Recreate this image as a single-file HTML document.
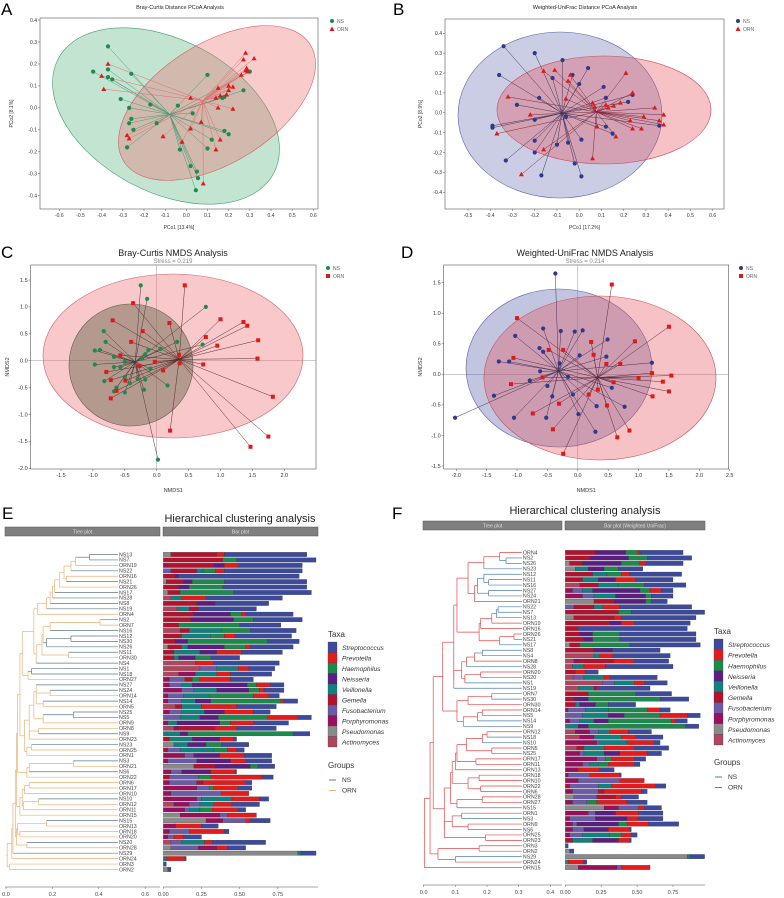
<!DOCTYPE html>
<html><head><meta charset="utf-8"><style>
body{margin:0;background:#fff}
svg{display:block;font-family:"Liberation Sans",sans-serif}
</style></head><body>
<svg id="fig" width="784" height="898" viewBox="0 0 784 898">
<g id="panels"></g>
</svg>
<script>
// ---------- Scatter data ----------
const aNS=[[-0.37,0.28],[-0.44,0.165],[-0.37,0.175],[-0.37,0.14],[-0.35,0.13],[-0.26,0.155],[-0.31,0.04],[-0.27,0.0],[-0.17,0.015],[-0.26,-0.05],[-0.27,-0.07],[-0.25,-0.1],[-0.14,-0.07],[-0.28,-0.18],[-0.04,0.01],[0.03,-0.025],[0.1,0.15],[-0.03,-0.19],[0.02,-0.265],[0.05,-0.29],[0.055,-0.32],[0.045,-0.375],[0.12,-0.145],[0.1,-0.185],[0.18,-0.105],[0.2,-0.12],[0.27,0.08],[0.17,0.045],[0.18,0.05],[0.3,0.165]];
const aORN=[[-0.37,0.2],[-0.4,0.145],[-0.39,0.085],[-0.28,-0.125],[-0.27,-0.14],[-0.11,-0.13],[-0.02,-0.155],[0.02,0.045],[0.02,-0.095],[0.07,-0.065],[0.08,-0.345],[0.14,0.045],[0.15,0.09],[0.15,0.0],[0.16,-0.145],[0.14,-0.19],[0.16,0.055],[0.19,0.06],[0.2,0.1],[0.2,0.08],[0.22,0.095],[0.22,-0.005],[0.26,0.15],[0.27,0.22],[0.28,0.25],[0.32,0.225],[0.285,0.18],[0.28,0.17],[0.29,0.165]];
const bNS=[[-0.34,0.335],[-0.2,0.3],[-0.36,0.19],[-0.075,0.265],[0.04,0.225],[-0.12,0.175],[-0.03,0.19],[0.0,0.145],[0.11,0.13],[0.12,0.075],[0.22,0.055],[0.24,0.09],[-0.18,0.075],[-0.28,0.04],[-0.2,-0.035],[-0.39,-0.065],[-0.39,-0.075],[-0.06,-0.02],[0.12,-0.07],[0.15,-0.105],[0.36,-0.065],[-0.2,-0.14],[-0.1,-0.16],[-0.05,-0.15],[0.01,-0.135],[-0.2,-0.2],[-0.33,-0.24],[-0.17,-0.315],[-0.02,-0.255],[0.01,-0.32]];
const bORN=[[-0.16,0.21],[-0.11,0.215],[-0.04,0.19],[-0.05,0.16],[0.21,0.2],[-0.32,0.08],[-0.06,0.07],[0.06,0.05],[0.07,0.03],[0.12,0.04],[0.13,0.025],[0.155,0.035],[0.185,0.05],[0.24,0.1],[0.34,0.025],[-0.22,-0.01],[-0.37,-0.105],[0.08,-0.07],[0.23,-0.04],[0.24,-0.08],[0.29,-0.02],[0.38,-0.01],[0.36,-0.04],[0.38,-0.06],[0.28,-0.08],[0.165,-0.12],[-0.16,-0.185],[0.06,-0.23],[-0.26,-0.31]];
const cNS=[[-0.25,1.4],[-0.15,1.15],[0.77,1.0],[-0.83,0.55],[-0.8,0.35],[-0.97,0.19],[-0.89,0.2],[-0.67,0.07],[-0.13,0.2],[0.06,0.22],[0.32,0.35],[0.72,0.3],[-0.18,0.12],[-0.23,0.04],[-0.5,-0.02],[-0.97,-0.07],[-0.67,-0.12],[-0.57,-0.12],[-0.1,-0.15],[-0.5,-0.3],[-0.42,-0.42],[-0.3,-0.34],[-0.18,-0.35],[0.17,-0.46],[-0.82,-0.38],[-0.63,-0.5],[-0.67,-0.57],[-0.5,-0.59],[-0.2,-0.54],[0.02,-1.84]];
const cORN=[[0.44,1.4],[-0.37,1.07],[-0.69,0.75],[0.2,0.7],[-0.22,0.55],[-0.4,0.35],[1.0,0.77],[1.36,0.72],[1.42,0.65],[0.77,0.44],[1.59,0.38],[0.95,0.28],[-0.57,0.1],[0.35,0.11],[1.58,0.04],[-0.03,-0.02],[0.36,-0.05],[0.73,-0.07],[-0.27,-0.1],[0.1,-0.18],[-0.79,-0.21],[-0.72,-0.36],[-0.49,-0.37],[-0.63,-0.56],[-0.72,-0.7],[1.82,-0.67],[0.21,-1.3],[1.75,-1.41],[1.47,-1.6]];
const dNS=[[-0.37,1.65],[-0.57,0.75],[-0.28,0.71],[-0.05,0.7],[0.08,0.72],[-1.03,0.63],[0.49,0.57],[-0.63,0.43],[-0.57,0.37],[-1.3,0.21],[-1.13,0.21],[0.03,0.31],[0.47,0.29],[-0.3,0.18],[1.22,0.19],[-0.62,0.05],[-0.16,-0.04],[-0.79,-0.1],[-0.5,-0.19],[-1.38,-0.35],[-0.42,-0.36],[-0.08,-0.33],[0.56,-0.22],[0.31,-0.52],[0.77,-0.53],[0.01,-0.65],[-1.05,-0.71],[-0.52,-0.71],[0.29,-0.94],[-2.02,-0.71]];
const dORN=[[0.56,1.47],[-1.0,0.92],[1.5,0.78],[0.94,0.54],[0.22,0.53],[-0.48,0.4],[-0.24,0.4],[0.26,0.32],[-1.06,0.27],[0.47,0.17],[0.7,0.17],[1.22,0.02],[1.54,-0.02],[-0.58,-0.05],[1.0,-0.06],[0.59,-0.13],[1.4,-0.12],[-1.1,-0.16],[0.33,-0.25],[0.18,-0.33],[1.5,-0.28],[1.23,-0.36],[-0.31,-0.48],[0.48,-0.51],[-0.74,-0.64],[-0.41,-0.9],[0.85,-0.92],[0.65,-1.03],[-0.24,-1.3]];
const aXTicks=[-0.6,-0.5,-0.4,-0.3,-0.2,-0.1,0,0.1,0.2,0.3,0.4,0.5,0.6];
const aYTicks=[-0.4,-0.3,-0.2,-0.1,0,0.1,0.2,0.3,0.4];
const bXTicks=[-0.5,-0.4,-0.3,-0.2,-0.1,0,0.1,0.2,0.3,0.4,0.5,0.6];
const cXTicks=[-1.5,-1.0,-0.5,0,0.5,1.0,1.5,2.0];
const cYTicks=[-2.0,-1.5,-1.0,-0.5,0,0.5,1.0,1.5];
const dXTicks=[-2.0,-1.5,-1.0,-0.5,0,0.5,1.0,1.5,2.0,2.5];
const dYTicks=[-1.5,-1.0,-0.5,0,0.5,1.0,1.5];

// ---------- Dendrogram / bar data ----------
const eLabels=["NS13","NS7","ORN19","NS22","ORN16","NS21","ORN26","NS17","NS28","NS8","NS19","ORN4","NS2","ORN7","NS16","NS12","NS30","NS26","NS11","ORN30","NS4","NS1","NS18","ORN27","NS27","NS24","ORN14","NS14","ORN5","NS25","NS5","ORN9","ORN8","NS9","ORN23","NS23","ORN25","ORN1","NS3","ORN21","NS6","ORN22","ORN6","ORN17","ORN10","NS10","ORN12","ORN11","ORN15","NS15","ORN13","ORN18","ORN20","NS20","ORN28","NS29","ORN24","ORN3","ORN2"];
const eMerge=[0.36,0.30,0.28,0.25,0.26,0.23,0.21,0.20,0.19,0.175,0.135,0.12,0.405,0.19,0.16,0.28,0.175,0.155,0.27,0.13,0.07,0.11,0.095,0.06,0.13,0.19,0.13,0.16,0.12,0.29,0.16,0.10,0.14,0.10,0.08,0.11,0.09,0.05,0.29,0.10,0.09,0.045,0.10,0.08,0.07,0.14,0.075,0.06,0.04,0.175,0.05,0.06,0.045,0.09,0.03,0.025,0.005,0.015,0.003];
const eBars=["U5 G35 P40 S94","G39 H48 S100","R3 G33 N40 P49 S91","F5 G22 V26 H34 P40 S91","G8 N10 S89","U2 G13 N19 H40 S94","G10 N17 H39 S94","U3 G11 H46 S97","A5 V12 P28 S78","G22 N34 S69","A9 V17 G23 S61","G20 N44 H51 P54 S85","G18 N46 H59 S91","G10 H50 S77","A11 G17 V38 H57 S87","G12 V31 H40 P47 S84","G8 N16 H68 S89","U3 G12 V16 N40 H54 P57 S85","G7 V24 N35 P51 S78","G7 V10 N21 H31 S50","A21 P33 S76","A24 F35 V49 P56 S73","A10 R21 V35 P44 S71","R4 F14 G19 H24 P44 S59","R4 F12 V19 N55 H61 P70 S79","R12 F20 V35 N56 H63 P66 S79","R3 F13 V30 H59 P69 S76","R3 F12 V21 N31 H77 P79 S88","A8 G12 V25 P48 S74","R4 F12 V27 N40 P59 S70","F11 V24 N36 H68 P88 S97","R3 V9 N37 H44 P59 S82","A7 R10 G34 P48 S74","V11 N16 H85 S96","G4 V19 N37 P46 S48","U7 V16 N28 H38 S56","G3 F11 V33 H42 P48 S53","R14 F20 N37 P53 S71","R3 F22 N44 P54 S71","U20 G34 N57 H62 S73","R5 F12 N31 P47 S48","G4 F23 H31 P65 S72","R4 F22 G26 P54 S58","R22 F30 H33 P49 S58","R5 F38 P56","R22 F25 V45 P63 S69","A7 R17 F24 V33 P45 S63","R14 F17 V24 H32 P49 S54","U11 R37 F42 P61","U28 R39 F54 P57 S70","R8 P25 S36","R4 F17 P40 S43","R3 F7 P13 S25","A5 F12 V27 P32 S67","U5 F23 R35 P42 S54","U88 V90 S100","V2 P14 S15","S2","U3 S5"];
const fLabels=["ORN4","NS2","NS26","NS23","NS12","NS11","NS16","NS27","NS24","ORN21","NS22","NS7","NS13","ORN19","ORN16","ORN26","NS21","NS17","NS8","NS4","ORN8","NS28","ORN20","NS20","NS1","NS19","ORN7","NS30","ORN30","ORN14","NS5","NS14","NS9","ORN12","NS18","NS10","ORN5","NS25","ORN17","ORN11","ORN13","ORN18","ORN10","ORN22","ORN6","ORN28","ORN27","NS15","ORN1","NS3","ORN9","NS6","ORN25","ORN23","ORN3","ORN2","NS29","ORN24","ORN15"];
const fMerge=[0.24,0.26,0.19,0.14,0.19,0.205,0.17,0.205,0.16,0.105,0.235,0.23,0.215,0.18,0.175,0.285,0.24,0.095,0.185,0.16,0.135,0.12,0.18,0.13,0.095,0.06,0.215,0.14,0.105,0.185,0.17,0.125,0.03,0.2,0.185,0.135,0.215,0.105,0.165,0.10,0.09,0.175,0.14,0.18,0.085,0.185,0.105,0.065,0.12,0.09,0.14,0.065,0.195,0.02,0.175,0.045,0.10,0.002];
const fBars=["G21 N42 H50 P52 S82","G17 N44 H57 S88","U3 G12 N39 H52 P56 S82","U7 V16 N27 H37 S54","G19 V29 H39 P45 S81","G12 V23 N35 P49 S75","A10 G23 V37 H55 S84","R5 F12 V19 N52 H59 P67 S75","R12 F20 V35 N56 H60 S75","U20 G34 N56 H60 S71","F6 G20 V26 P38 S88","G37 H46 S97","U6 G34 P39 S91","G31 N39 P48 S87","G9 S85","G10 N19 H38 S91","G13 N19 H38 S91","U3 G10 H45 S94","G20 N33 S66","A20 V24 P33 S73","A6 R10 G34 P48 S72","A5 V13 P28 S75","G7 P14 S23","A6 F13 V27 P31 S64","A26 F34 V48 P55 S71","A9 V20 G22 S59","G16 H49 S74","G6 N16 H66 S86","G7 V10 N21 H30 S49","R2 F14 V30 H57 P66 S73","F12 V30 N41 H66 P85 S94","R3 F10 V20 N30 H74 P77 S85","V9 N16 H84 S93","A7 R17 F23 V31 P44 S60","A10 R20 V39 P49 S68","R22 F24 V43 P62 S66","A8 G13 V27 P48 S72","R10 F13 V27 N38 P57 S67","R22 F28 H32 P48 S56","R12 F17 V23 H30 P48 S52","R9 P24 S34","R2 F17 P38 S39","R9 F38 P55","G3 F23 V32 P63 S70","R5 F23 G27 P53 S57","U6 F22 G35 P39 S51","R5 F15 H22 P43 S57","U27 R37 F51 P55 S67","R16 F21 N35 P51 S68","R3 F21 N43 P51 S68","R5 F8 N37 H43 P58 S79","R5 F13 N30 P45 S46","R3 F12 V31 H39 P46 S50","G5 V19 N37 P45 S46","S2","U3 S6","U85 V87 S97","V2 P13 S15","U9 R36 F39 P59"];
const taxaNames=["Streptococcus","Prevotella","Haemophilus","Neisseria","Veillonella","Gemella","Fusobacterium","Porphyromonas","Pseudomonas","Actinomyces"];
const taxaCodes=["S","P","H","N","V","G","F","R","U","A"];
const taxaColors=["#3b4a9c","#e41a1c","#1b8a4c","#5a1e82","#138080","#b3112e","#6a5aa8","#980f5e","#8a8a8a","#b04560"];
const treeTicksE=[0,0.2,0.4,0.6];
const treeTicksF=[0,0.1,0.2,0.3,0.4];
const barTicks=[0,0.25,0.5,0.75];

const NS="http://www.w3.org/2000/svg";
const root=document.getElementById('panels');
function el(tag,attrs,parent,text){const e=document.createElementNS(NS,tag);for(const k in attrs)e.setAttribute(k,attrs[k]);if(text!==undefined)e.textContent=text;(parent||root).appendChild(e);return e;}
function fmt(v,d){return v.toFixed(d);}

function scatter(o){
  const g=el('g',{});
  
  
  const sx=v=>o.x0+(v-o.xmin)*o.kx, sy=v=>o.y0-(v-o.ymin)*o.ky;
  el('rect',{x:o.box[0],y:o.box[1],width:o.box[2]-o.box[0],height:o.box[3]-o.box[1],fill:'#fff',stroke:'#555','stroke-width':0.6},g);
  if(o.zero){el('line',{x1:o.box[0],x2:o.box[2],y1:sy(0),y2:sy(0),stroke:'#999','stroke-width':0.5},g);el('line',{x1:sx(0),x2:sx(0),y1:o.box[1],y2:o.box[3],stroke:'#999','stroke-width':0.5},g);}
  o.ells.forEach(e=>{const el2=el('ellipse',{cx:e[0],cy:e[1],rx:e[2],ry:e[3],transform:`rotate(${e[4]} ${e[0]} ${e[1]})`,fill:e[5],stroke:e[6],'stroke-width':0.6},g);});
  o.groups.forEach(gr=>{
    const cx=gr.pts.reduce((s,p)=>s+p[0],0)/gr.pts.length, cy=gr.pts.reduce((s,p)=>s+p[1],0)/gr.pts.length;
    gr.pts.forEach(p=>el('line',{x1:sx(cx),y1:sy(cy),x2:sx(p[0]),y2:sy(p[1]),stroke:gr.line,'stroke-width':0.5},g));
  });
  o.groups.forEach(gr=>{
    gr.pts.forEach(p=>{
      const X=sx(p[0]),Y=sy(p[1]);let m;
      if(gr.shape==='c')m=el('circle',{cx:X,cy:Y,r:2.1,fill:gr.col},g);
      else if(gr.shape==='t')m=el('polygon',{points:`${X},${Y-2.6} ${X-2.5},${Y+1.8} ${X+2.5},${Y+1.8}`,fill:gr.col},g);
      else m=el('rect',{x:X-2,y:Y-2,width:4,height:4,fill:gr.col},g);
      
      
    });
  });
  o.xt.forEach(t=>{el('line',{x1:sx(t),x2:sx(t),y1:o.box[3],y2:o.box[3]+2,stroke:'#555','stroke-width':0.5},g);el('text',{x:sx(t),y:o.box[3]+8,'font-size':o.fs,'text-anchor':'middle',fill:'#333'},g,fmt(t,1));});
  o.yt.forEach(t=>{el('line',{x1:o.box[0]-2,x2:o.box[0],y1:sy(t),y2:sy(t),stroke:'#555','stroke-width':0.5},g);el('text',{x:o.box[0]-3,y:sy(t)+1.8,'font-size':o.fs,'text-anchor':'end',fill:'#333'},g,fmt(t,1));});
  const xl=el('text',{x:(o.box[0]+o.box[2])/2,y:o.xlY,'font-size':o.fs,'text-anchor':'middle',fill:'#333'},g,o.xlab);
  const yl=el('text',{x:0,y:0,'font-size':o.fs,'text-anchor':'middle',fill:'#333',transform:`translate(${o.ylX},${(o.box[1]+o.box[3])/2}) rotate(-90)`},g,o.ylab);
  const tt=el('text',{x:o.tx,y:o.ty,'font-size':o.tfs,'text-anchor':'middle',fill:'#222'},g,o.title);
  if(o.stress){el('text',{x:o.tx,y:o.ty+7,'font-size':6,'text-anchor':'middle',fill:'#888'},g,o.stress);}
  const lt=el('text',{x:o.letter[0],y:o.letter[1],'font-size':17,fill:'#000'},g,o.L);
  o.groups.forEach((gr,i)=>{
    const lx=o.leg[0],ly=o.leg[1]+i*8;
    const lg=el('g',{},g);
    if(gr.shape==='c')el('circle',{cx:lx,cy:ly,r:2,fill:gr.col},lg);
    else if(gr.shape==='t')el('polygon',{points:`${lx},${ly-2.5} ${lx-2.5},${ly+2} ${lx+2.5},${ly+2}`,fill:gr.col},lg);
    else el('rect',{x:lx-2,y:ly-2,width:4,height:4,fill:gr.col},lg);
    el('text',{x:lx+5,y:ly+2,'font-size':5,fill:'#666'},lg,gr.label);
  });
}

scatter({name:'panel-a-pcoa-bray',L:'A',letter:[1,15],box:[40,18,318,209],x0:59.3,xmin:-0.6,kx:211.7,y0:195.7,ymin:-0.4,ky:219.6,fs:5,xt:aXTicks,yt:aYTicks,xlab:'PCo1 [13.4%]',xlY:229,ylab:'PCo2 [8.1%]',ylX:13,title:'Bray-Curtis Distance PCoA Analysis',tx:180,ty:9,tfs:5.5,leg:[332,21],
 ells:[[166,116,122,76,28,'rgba(70,170,115,0.32)','#3f9c6c'],[217,103,110,60,-32,'rgba(235,95,95,0.32)','#d06060']],
 groups:[{label:'NS',pts:aNS,col:'#1d8a4e',shape:'c',line:'#4a9a7a'},{label:'ORN',pts:aORN,col:'#e01818',shape:'t',line:'#e07070'}]});
scatter({name:'panel-b-pcoa-unifrac',L:'B',letter:[393,15],box:[445,19,724,209],x0:468,xmin:-0.5,kx:222.4,y0:192.3,ymin:-0.4,ky:198.8,fs:5,xt:bXTicks,yt:aYTicks,xlab:'PCo1 [17.2%]',xlY:229,ylab:'PCo2 [8.9%]',ylX:422,title:'Weighted-UniFrac Distance PCoA Analysis',tx:585,ty:9,tfs:5.5,leg:[738,21],
 ells:[[560,115,102,83,0,'rgba(80,90,165,0.3)','#5a64a0'],[604,110,107,54,0,'rgba(230,80,90,0.35)','#c85060']],
 groups:[{label:'NS',pts:bNS,col:'#2c3a8c',shape:'c',line:'#443355'},{label:'ORN',pts:bORN,col:'#e01818',shape:'t',line:'#7a2a3a'}]});
scatter({name:'panel-c-nmds-bray',L:'C',letter:[1,258],box:[30.7,265,316,469],x0:61,xmin:-1.5,kx:63.8,y0:468.3,ymin:-2.0,ky:53.8,fs:5.5,zero:true,xt:cXTicks,yt:cYTicks,xlab:'NMDS1',xlY:492,ylab:'NMDS2',ylX:9,title:'Bray-Curtis NMDS Analysis',stress:'Stress = 0.219',tx:173,ty:256,tfs:9,leg:[328,268],
 ells:[[173,356,130,82,0,'rgba(240,110,115,0.38)','#d06068'],[131,365,62,61,0,'rgba(95,95,70,0.45)','#6a6050']],
 groups:[{label:'NS',pts:cNS,col:'#1d8a4e',shape:'c',line:'#4a3a3a'},{label:'ORN',pts:cORN,col:'#e01818',shape:'s',line:'#5a2a2a'}]});
scatter({name:'panel-d-nmds-unifrac',L:'D',letter:[401,258],box:[443.7,265,728.7,469],x0:456.3,xmin:-2.0,kx:60.75,y0:466,ymin:-1.5,ky:61.1,fs:5.5,zero:true,xt:dXTicks,yt:dYTicks,xlab:'NMDS1',xlY:492,ylab:'NMDS2',ylX:422,title:'Weighted-UniFrac NMDS Analysis',stress:'Stress = 0.214',tx:585,ty:256,tfs:9,leg:[741,268],
 ells:[[559,368,93,79,0,'rgba(80,90,165,0.35)','#5a64a0'],[600,378,116,82,0,'rgba(230,80,90,0.35)','#c85060']],
 groups:[{label:'NS',pts:dNS,col:'#2c3a8c',shape:'c',line:'#443355'},{label:'ORN',pts:dORN,col:'#e01818',shape:'s',line:'#5a2a3a'}]});

function cluster(o){
  const g=el('g',{});
  
  
  const n=o.labels.length, rowY=i=>o.y0+i*(o.y1-o.y0)/(n-1);
  const tx=v=>o.ax0+v*o.tk, bx=v=>o.bx0+v*o.bk;
  const grp=l=>l.startsWith('NS')?'NS':'ORN';
  const colOf=s=>s.size===1&&s.has('NS')?o.nsCol:o.ornCol;
  function build(lo,hi){
    if(lo===hi)return{y:rowY(lo),v:o.leafV,set:new Set([grp(o.labels[lo])])};
    let k=lo;for(let i=lo;i<hi;i++)if(o.merge[i]<o.merge[k])k=i;
    const L=build(lo,k),R=build(k+1,hi),v=o.merge[k];
    const set=new Set([...L.set,...R.set]);
    el('line',{x1:tx(v),x2:tx(L.v),y1:L.y,y2:L.y,stroke:colOf(L.set),'stroke-width':0.7},g);
    el('line',{x1:tx(v),x2:tx(R.v),y1:R.y,y2:R.y,stroke:colOf(R.set),'stroke-width':0.7},g);
    el('line',{x1:tx(v),x2:tx(v),y1:L.y,y2:R.y,stroke:colOf(set),'stroke-width':0.7},g);
    return{y:(L.y+R.y)/2,v,set};
  }
  const r=build(0,n-1);
  el('line',{x1:tx(0),x2:tx(r.v),y1:r.y,y2:r.y,stroke:o.ornCol,'stroke-width':0.7},g);
  o.labels.forEach((l,i)=>{const t=el('text',{x:tx(o.leafV)+1,y:rowY(i)+1.8,'font-size':5.3,fill:'#444'},g,l);});
  o.bars.forEach((s,i)=>{
    let prev=0;const y=rowY(i);
    s.split(' ').forEach(tok=>{
      const c=taxaCodes.indexOf(tok[0]);const cum=Math.min(parseFloat(tok.slice(1))/100,1);
      const r=el('rect',{x:bx(prev),y:y-2.2,width:Math.max(bx(cum)-bx(prev),0.4),height:4.4,fill:taxaColors[c],stroke:'#333','stroke-width':0.25},g);
      
      
      prev=cum;
    });
  });
  // strips
  const s1=el('rect',{x:o.strip[0],y:o.stripY,width:o.strip[1]-o.strip[0],height:9,fill:'#7f7f7f',stroke:'#555','stroke-width':0.5},g);
  el('text',{x:(o.strip[0]+o.strip[1])/2,y:o.stripY+6.5,'font-size':5,'text-anchor':'middle',fill:'#ddd'},g,'Tree plot');
  const s2=el('rect',{x:o.strip[2],y:o.stripY,width:o.strip[3]-o.strip[2],height:9,fill:'#7f7f7f',stroke:'#555','stroke-width':0.5},g);
  el('text',{x:(o.strip[2]+o.strip[3])/2,y:o.stripY+6.5,'font-size':5,'text-anchor':'middle',fill:'#ddd'},g,o.barTitle);
  const tt=el('text',{x:o.titleX,y:o.titleY,'font-size':11,'text-anchor':'middle',fill:'#222'},g,'Hierarchical clustering analysis');
  const lt=el('text',{x:o.letter[0],y:o.letter[1],'font-size':17,fill:'#000'},g,o.L);
  // axes
  el('line',{x1:o.strip[0],x2:o.strip[1],y1:o.axY,y2:o.axY,stroke:'#888','stroke-width':0.8},g);
  el('line',{x1:o.strip[2],x2:o.strip[3],y1:o.axY,y2:o.axY,stroke:'#888','stroke-width':0.8},g);
  o.treeTicks.forEach(t=>{el('line',{x1:tx(t),x2:tx(t),y1:o.axY,y2:o.axY+2,stroke:'#666','stroke-width':0.5},g);el('text',{x:tx(t),y:o.axY+9,'font-size':5.5,'text-anchor':'middle',fill:'#444'},g,fmt(t,1));});
  barTicks.forEach(t=>{el('line',{x1:bx(t),x2:bx(t),y1:o.axY,y2:o.axY+2,stroke:'#666','stroke-width':0.5},g);el('text',{x:bx(t),y:o.axY+9,'font-size':5.5,'text-anchor':'middle',fill:'#444'},g,fmt(t,2));});
  // legend
  const lg=el('g',{},g);
  el('text',{x:o.legX,y:o.legY,'font-size':8,fill:'#333'},lg,'Taxa');
  taxaNames.forEach((t,i)=>{const y=o.legY+5+i*o.legStep;const it=el('g',{},lg);
    el('rect',{x:o.legX,y:y,width:9,height:o.legStep,fill:taxaColors[i],stroke:'#444','stroke-width':0.3},it);
    el('text',{x:o.legX+14,y:y+o.legStep-2.5,'font-size':6.6,'font-style':'italic',fill:'#333'},it,t);});
  el('text',{x:o.legX,y:o.grpY,'font-size':8,fill:'#333'},lg,'Groups');
  [['NS',o.nsCol],['ORN',o.ornCol]].forEach((p,i)=>{const y=o.grpY+12+i*10.5;const it=el('g',{},lg);
    el('line',{x1:o.legX+1,x2:o.legX+8,y1:y,y2:y,stroke:p[1],'stroke-width':1},it);
    el('text',{x:o.legX+14,y:y+2.2,'font-size':6.6,fill:'#333'},it,p[0]);});
}

cluster({name:'panel-e-clustering-bray',L:'E',letter:[2,519],labels:eLabels,merge:eMerge,bars:eBars,y0:554.5,y1:869.5,ax0:6,tk:232,leafV:0.483,bx0:163.3,bk:152.7,nsCol:'#5e7a8a',ornCol:'#eab274',
 strip:[5,160,163,318],stripY:527,barTitle:'Bar plot',titleX:240,titleY:522,axY:887,treeTicks:treeTicksE,legX:328,legY:637,legStep:10.5,grpY:768});
cluster({name:'panel-f-clustering-unifrac',L:'F',letter:[392,519],labels:fLabels,merge:fMerge,bars:fBars,y0:552.5,y1:867.5,ax0:423.7,tk:316.7,leafV:0.31,bx0:565.3,bk:143.6,nsCol:'#4a80b0',ornCol:'#e04a4a',
 strip:[423,562,565,705],stripY:521,barTitle:'Bar plot (Weighted UniFrac)',titleX:585,titleY:514,axY:885,treeTicks:treeTicksF,legX:714,legY:634,legStep:10.6,grpY:765});
</script>
</body></html>
